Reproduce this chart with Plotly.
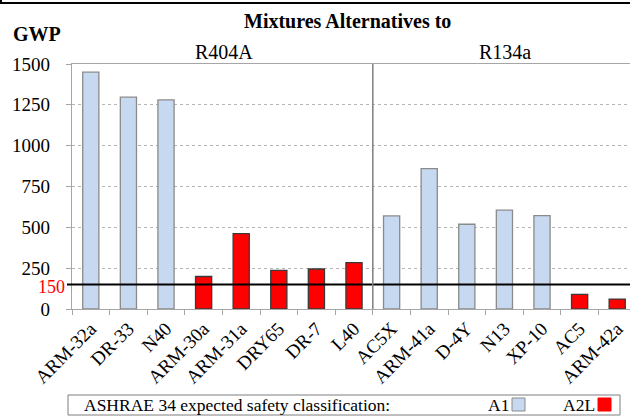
import plotly.graph_objects as go

categories = ["ARM-32a", "DR-33", "N40", "ARM-30a", "ARM-31a", "DRY65", "DR-7", "L40",
              "AC5X", "ARM-41a", "D-4Y", "N13", "XP-10", "AC5", "ARM-42a"]
gwp = [1450, 1297, 1280, 199, 461, 237, 245, 284, 570, 860, 519, 605, 572, 90, 61]
safety = ["A1", "A1", "A1", "A2L", "A2L", "A2L", "A2L", "A2L",
          "A1", "A1", "A1", "A1", "A1", "A2L", "A2L"]
y_ticks = [0, 250, 500, 750, 1000, 1250, 1500]
threshold = 150
groups = ["R404A", "R134a"]

fill = {"A1": "#c6d9f1", "A2L": "#ff0000"}
edge = {"A1": "#8a8a8a", "A2L": "#3a3a3a"}

FONT = "Liberation Serif"
L, T, PW, PH = 72, 64, 558, 245


def px(x):
    return (x - L) / PW


def py(y):
    return (T + PH - y) / PH


fig = go.Figure()
fig.add_trace(go.Bar(
    x=categories, y=gwp, width=0.43,
    marker=dict(color=[fill[s] for s in safety],
                line=dict(color=[edge[s] for s in safety], width=1.3)),
    showlegend=False,
))

shapes = []
# threshold line
shapes.append(dict(type="line", xref="paper", yref="y", x0=px(67), x1=1, y0=threshold, y1=threshold,
                   line=dict(color="black", width=2)))
# group separator
shapes.append(dict(type="line", xref="x", yref="y", x0=7.5, x1=7.5, y0=-25, y1=1500,
                   line=dict(color="#7f7f7f", width=1.5)))
# top frame line
shapes.append(dict(type="line", xref="paper", yref="paper", x0=px(0), x1=px(630), y0=py(3), y1=py(3),
                   line=dict(color="black", width=2)))
shapes.append(dict(type="line", xref="paper", yref="paper", x0=px(1), x1=px(1), y0=py(0), y1=py(4),
                   line=dict(color="black", width=2)))
# bottom classification box
shapes.append(dict(type="rect", xref="paper", yref="paper", x0=px(68), x1=px(620), y0=py(395), y1=py(415),
                   line=dict(color="#7f7f7f", width=1)))
shapes.append(dict(type="rect", xref="paper", yref="paper", x0=px(512), x1=px(525), y0=py(398), y1=py(411),
                   line=dict(color="#8a8a8a", width=1), fillcolor=fill["A1"]))
shapes.append(dict(type="rect", xref="paper", yref="paper", x0=px(598), x1=px(611), y0=py(398), y1=py(411),
                   line=dict(color="#ff0000", width=1), fillcolor=fill["A2L"]))


def label(text, x, y, size, color="black", xanchor="center", yref="paper", yshift=0):
    return dict(text=text, xref="paper", yref=yref, x=x, y=y, xanchor=xanchor, yanchor="middle",
                yshift=yshift, showarrow=False, font=dict(family=FONT, size=size, color=color))


ann = [
    label("<b>Mixtures Alternatives to</b>", px(347), py(21), 20),
    label("<b>GWP</b>", px(37), py(34), 20),
    label(groups[0], px(224), py(52), 20),
    label(groups[1], px(505), py(52), 20),
    label(str(threshold), px(67), threshold, 18, color="#ff0000", xanchor="right", yref="y", yshift=-2),
    label("ASHRAE 34 expected safety classification:", px(82), py(405), 17.5, xanchor="left"),
    label("A1", px(511), py(405), 17.5, xanchor="right"),
    label("A2L", px(597), py(405), 17.5, xanchor="right"),
]

fig.update_layout(
    width=630, height=419,
    margin=dict(l=L, r=0, t=T, b=419 - T - PH, pad=0),
    paper_bgcolor="white", plot_bgcolor="white",
    font=dict(family=FONT, size=19, color="black"),
    shapes=shapes, annotations=ann,
    xaxis=dict(
        type="category", range=[-0.5, 14.34],
        showline=True, linecolor="#a6a6a6", linewidth=1.3, mirror=True,
        ticks="outside", tickson="boundaries", ticklen=5, tickcolor="#a6a6a6",
        tickangle=-45, showgrid=False,
        tickfont=dict(family=FONT, size=19, color="black"),
    ),
    yaxis=dict(
        range=[0, 1500], tickvals=y_ticks,
        showline=True, linecolor="#a6a6a6", linewidth=1.3,
        ticks="outside", ticklen=5, tickcolor="#a6a6a6",
        showgrid=True, gridcolor="#b5b5b5", griddash="dot", gridwidth=1,
        zeroline=False, ticklabelstandoff=12,
        tickfont=dict(family=FONT, size=19, color="black"),
    ),
)

fig.write_html("out.html", config={"displayModeBar": False},
               post_script="document.body.style.margin='0';document.body.style.overflow='hidden';")
